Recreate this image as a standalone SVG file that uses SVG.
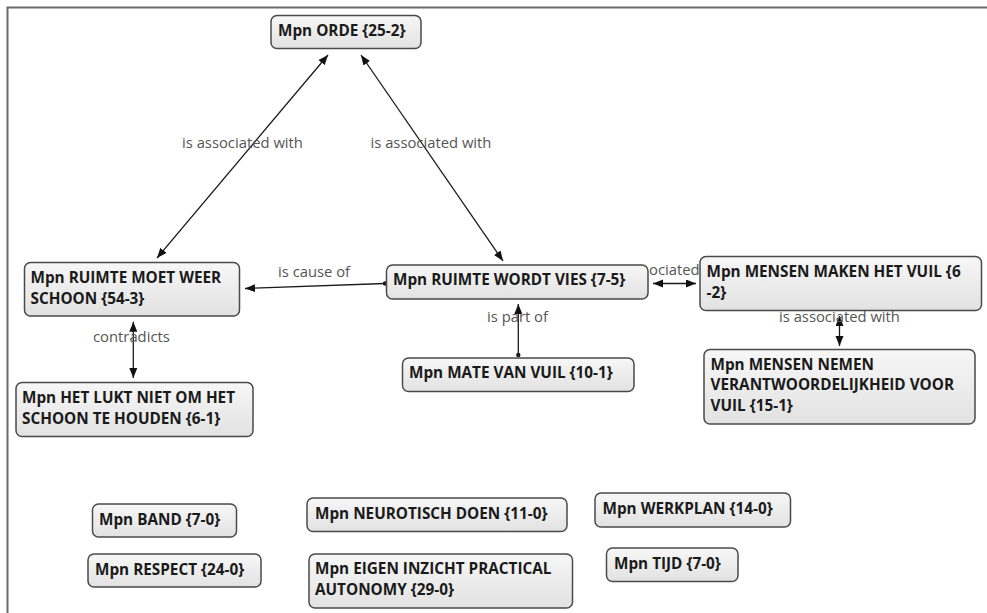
<svg xmlns="http://www.w3.org/2000/svg" width="987" height="613" viewBox="0 0 987 613">
<defs>
<linearGradient id="g" x1="0" y1="0" x2="0" y2="1">
<stop offset="0" stop-color="#f7f7f7"/>
<stop offset="1" stop-color="#e2e2e2"/>
</linearGradient>
<marker id="ah" markerUnits="userSpaceOnUse" markerWidth="11" markerHeight="9" refX="10" refY="4" orient="auto-start-reverse">
<path d="M0,0 L10,4 L0,8 z" fill="#111"/>
</marker>
</defs>
<style>
.n rect{fill:url(#g);stroke:#4a4a4a;stroke-width:1.5}
.n text{font-family:"Open Sans","Liberation Sans",sans-serif;font-weight:bold;font-size:15.3px;fill:#1a1a1a}
.c line{stroke:#1a1a1a;stroke-width:1.3}
.l{font-family:"Open Sans","Liberation Sans",sans-serif;font-size:14.8px;fill:#555}
</style>
<rect width="987" height="613" fill="#fff"/>
<path d="M7.5,613 V7.5 H987" fill="none" stroke="#6a6a6a" stroke-width="2"/>
<g id="connectors" class="c">
<line x1="328" y1="55" x2="157" y2="258" marker-start="url(#ah)" marker-end="url(#ah)"/>
<line x1="361" y1="55" x2="503" y2="261" marker-start="url(#ah)" marker-end="url(#ah)"/>
<line x1="385" y1="283.5" x2="245" y2="288.5" marker-end="url(#ah)"/>
<circle cx="385" cy="283.5" r="2.2" fill="#1a1a1a"/>
<line x1="518.3" y1="355" x2="518.3" y2="304" marker-end="url(#ah)"/>
<circle cx="518.3" cy="355" r="2.2" fill="#1a1a1a"/>
<line x1="653" y1="283.5" x2="696" y2="283.5" marker-start="url(#ah)" marker-end="url(#ah)"/>
<line x1="839.5" y1="316" x2="839.5" y2="346" marker-start="url(#ah)" marker-end="url(#ah)"/>
<line x1="133.3" y1="321.7" x2="133.3" y2="378" marker-start="url(#ah)" marker-end="url(#ah)"/>
<text class="l" x="182" y="148">is associated with</text>
<text class="l" x="370.5" y="148">is associated with</text>
<text class="l" x="278" y="277">is cause of</text>
<text class="l" x="487" y="321.5">is part of</text>
<text class="l" x="649" y="275">ociated</text>
<text class="l" x="779" y="321.5">is associated with</text>
<text class="l" x="93" y="341.5">contradicts</text>
</g>
<g id="n-orde" class="n"><rect x="271" y="15.5" width="150" height="33" rx="6"/><text x="278" y="35.5">Mpn ORDE {25-2}</text></g>
<g id="n-moet" class="n"><rect x="24.5" y="262.5" width="215" height="53.5" rx="6"/><text x="30.5" y="282.5">Mpn RUIMTE MOET WEER</text><text x="30.5" y="303.5">SCHOON {54-3}</text></g>
<g id="n-lukt" class="n"><rect x="16" y="382.5" width="237" height="54" rx="6"/><text x="22" y="402.5">Mpn HET LUKT NIET OM HET</text><text x="22" y="424">SCHOON TE HOUDEN {6-1}</text></g>
<g id="n-vies" class="n"><rect x="386.5" y="265" width="261.5" height="34" rx="6"/><text x="393" y="285">Mpn RUIMTE WORDT VIES {7-5}</text></g>
<g id="n-mate" class="n"><rect x="402.5" y="358" width="231.5" height="33.5" rx="6"/><text x="409" y="378">Mpn MATE VAN VUIL {10-1}</text></g>
<g id="n-maken" class="n"><rect x="700" y="256.5" width="281.5" height="54" rx="6"/><text x="706.5" y="277">Mpn MENSEN MAKEN HET VUIL {6</text><text x="706.5" y="298">-2}</text></g>
<g id="n-nemen" class="n"><rect x="704" y="349.5" width="271" height="74.5" rx="6"/><text x="710.5" y="369.5">Mpn MENSEN NEMEN</text><text x="710.5" y="390">VERANTWOORDELIJKHEID VOOR</text><text x="710.5" y="410.5">VUIL {15-1}</text></g>
<g id="n-band" class="n"><rect x="92.5" y="504" width="144" height="33" rx="6"/><text x="99" y="525">Mpn BAND {7-0}</text></g>
<g id="n-respect" class="n"><rect x="88" y="554" width="173" height="33" rx="6"/><text x="95" y="575">Mpn RESPECT {24-0}</text></g>
<g id="n-neuro" class="n"><rect x="307" y="498" width="260" height="33.5" rx="6"/><text x="315" y="518.5">Mpn NEUROTISCH DOEN {11-0}</text></g>
<g id="n-eigen" class="n"><rect x="309" y="554" width="263.5" height="54" rx="6"/><text x="315" y="573.5">Mpn EIGEN INZICHT PRACTICAL</text><text x="315" y="594.5">AUTONOMY {29-0}</text></g>
<g id="n-werkplan" class="n"><rect x="595" y="493" width="195.5" height="34" rx="6"/><text x="602.5" y="513.5">Mpn WERKPLAN {14-0}</text></g>
<g id="n-tijd" class="n"><rect x="606.5" y="548" width="131.5" height="33.5" rx="6"/><text x="614" y="568.5">Mpn TIJD {7-0}</text></g>
</svg>
